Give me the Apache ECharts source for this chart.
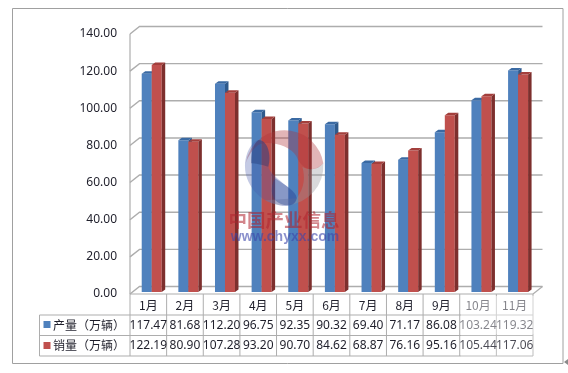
<!DOCTYPE html>
<html>
<head>
<meta charset="utf-8">
<style>
	html, body { margin: 0; padding: 0; background: #fff; }
	#chart { width: 568px; height: 373px; }
</style>
<script src="https://cdn.jsdelivr.net/npm/echarts@6/dist/echarts.min.js"></script>
</head>
<body>
<div id="chart"></div>
<script>
	var months = ['1月', '2月', '3月', '4月', '5月', '6月', '7月', '8月', '9月', '10月', '11月'];
	var production = [117.47, 81.68, 112.20, 96.75, 92.35, 90.32, 69.40, 71.17, 86.08, 103.24, 119.32];
	var sales = [122.19, 80.90, 107.28, 93.20, 90.70, 84.62, 68.87, 76.16, 95.16, 105.44, 117.06];
	var yTicks = [0, 20, 40, 60, 80, 100, 120, 140];
	var productionName = '产量（万辆）';
	var salesName = '销量（万辆）';

	var lineColor = '#adadad';
	var textColor = '#1f1f2b';
	var cjkFont = '"Noto Sans CJK SC", "Noto Sans", sans-serif';
	var depthX = 9.5, depthY = 7.5;   // 墙面进深
	var tableRows = [294, 315, 335.5, 356];

	// 背景墙、网格线、地板
	function renderWall(params, api) {
		var rect = params.coordSys;
		var y = api.coord([0, api.value(1)])[1];
		var left = rect.x, right = rect.x + rect.width;
		var children = [{
			type: 'polyline',
			shape: { points: [[left, y], [left + depthX, y - depthY], [right + depthX, y - depthY]] },
			style: { fill: 'none', stroke: lineColor, lineWidth: 1.4 }
		}];
		if (params.dataIndex === 0) {
			children.push({
				type: 'line',
				shape: { x1: left, y1: rect.y, x2: left, y2: rect.y + rect.height },
				style: { stroke: lineColor, lineWidth: 1.2 }
			});
			children.push({
				type: 'line',
				shape: { x1: right, y1: y, x2: right + depthX, y2: y - depthY },
				style: { stroke: lineColor, lineWidth: 1.2 }
			});
		}
		return { type: 'group', children: children };
	}

	// 伪3D柱子
	function barRenderer(offset, front, side, top) {
		return function(params, api) {
			var p = api.coord([api.value(0), api.value(1)]);
			var base = api.coord([api.value(0), 0]);
			var w = 10, dx = 3.5, dy = 2.5;
			var x = p[0] + 3.4 + offset;
			var y = p[1] - 2;
			var b = base[1] - 2;
			return {
				type: 'group',
				children: [{
					type: 'rect',
					shape: { x: x, y: y, width: w, height: b - y },
					style: { fill: front }
				}, {
					type: 'polygon',
					shape: { points: [[x + w, y], [x + w + dx, y - dy], [x + w + dx, b - dy], [x + w, b]] },
					style: { fill: side }
				}, {
					type: 'polygon',
					shape: { points: [[x, y], [x + dx, y - dy], [x + w + dx, y - dy], [x + w, y]] },
					style: { fill: top }
				}]
			};
		};
	}

	// 数据表的竖线和横线
	function renderTableGrid(params, api) {
		var rect = params.coordSys;
		var band = rect.width / months.length;
		var x = rect.x + band * api.value(0);
		var children = [{
			type: 'line',
			shape: { x1: x, y1: tableRows[0], x2: x, y2: tableRows[3] },
			style: { stroke: lineColor, lineWidth: 1 }
		}];
		if (params.dataIndex === 0) {
			children.push({
				type: 'line',
				shape: { x1: rect.x, y1: tableRows[0], x2: rect.x + rect.width, y2: tableRows[0] },
				style: { stroke: lineColor, lineWidth: 1 }
			});
			for (var i = 1; i < tableRows.length; i++) {
				children.push({
					type: 'line',
					shape: { x1: 39.5, y1: tableRows[i], x2: rect.x + rect.width, y2: tableRows[i] },
					style: { stroke: lineColor, lineWidth: 1 }
				});
			}
			children.push({
				type: 'line',
				shape: { x1: 39.5, y1: tableRows[1], x2: 39.5, y2: tableRows[3] },
				style: { stroke: lineColor, lineWidth: 1 }
			});
		}
		return { type: 'group', children: children };
	}

	function rowRenderer(rowIndex) {
		return function(params, api) {
			var p = api.coord([api.value(0), 0]);
			return {
				type: 'text',
				style: {
					x: p[0],
					y: (tableRows[rowIndex] + tableRows[rowIndex + 1]) / 2,
					text: api.value(1).toFixed(2),
					align: 'center',
					verticalAlign: 'middle',
					fill: textColor,
					font: '12px "Noto Sans", sans-serif'
				}
			};
		};
	}

	// 水印图标
	function renderLogo() {
		return {
			type: 'group',
			x: 225,
			y: 120,
			scaleX: 1 / 3,
			scaleY: 1 / 3,
			silent: true,
			children: [
				{ type: 'path', shape: { pathData: 'M295 130 A118 118 0 0 1 120 241 L215 235 C240 200 240 170 232 140 C250 152 275 150 295 130 Z' }, style: { fill: 'rgba(150,150,155,0.36)' } },
				{ type: 'path', shape: { pathData: 'M62 130 A118 118 0 0 1 295 130 C270 160 230 150 215 110 C195 75 130 60 100 75 C80 90 70 110 62 130 Z' }, style: { fill: 'rgba(175,50,55,0.36)' } },
				{ type: 'path', shape: { pathData: 'M100 60 C130 60 140 110 130 140 C135 170 215 210 215 235 C210 265 170 260 150 252 C100 240 60 190 60 140 C60 100 80 65 100 60 Z' }, style: { fill: 'rgba(70,90,170,0.32)' } },
				{ type: 'path', shape: { pathData: 'M150 175 C180 195 215 215 215 235 C210 265 170 260 150 240 C140 230 135 200 150 175 Z' }, style: { fill: 'rgba(40,70,150,0.38)' } },
				{ type: 'path', shape: { pathData: 'M100 60 C130 60 140 110 130 140 C110 135 90 130 78 130 C78 100 85 70 100 60 Z' }, style: { fill: 'rgba(30,50,110,0.35)' } }
			]
		};
	}

	function toPairs(values) {
		return values.map(function(v, i) { return [i, v]; });
	}

	var option = {
		animation: false,
		backgroundColor: '#fff',
		grid: { left: 130, right: 35, top: 34, bottom: 79 },
		xAxis: {
			type: 'category',
			data: months,
			axisLine: { show: false },
			axisTick: { show: false },
			axisLabel: { color: textColor, fontSize: 12, fontFamily: cjkFont, margin: 5, interval: 0 }
		},
		yAxis: {
			type: 'value',
			min: 0,
			max: 140,
			interval: 20,
			splitLine: { show: false },
			axisLine: { show: false },
			axisTick: { show: false },
			axisLabel: {
				color: textColor,
				fontSize: 12,
				fontFamily: '"Noto Sans", sans-serif',
				margin: 13,
				formatter: function(val) { return val.toFixed(2); }
			}
		},
		series: [{
			type: 'custom',
			silent: true,
			renderItem: renderWall,
			data: yTicks.map(function(v) { return [0, v]; }),
			z: 1
		}, {
			type: 'custom',
			name: productionName,
			renderItem: barRenderer(-10, '#4f81bd', '#2f5a8c', '#3a6aa3'),
			data: toPairs(production),
			z: 2
		}, {
			type: 'custom',
			name: salesName,
			renderItem: barRenderer(0, '#c0504d', '#7d2f2d', '#a33f3c'),
			data: toPairs(sales),
			z: 3
		}, {
			type: 'custom',
			silent: true,
			renderItem: renderTableGrid,
			data: months.concat(['']).map(function(m, i) { return [i, 0]; }),
			z: 4
		}, {
			type: 'custom',
			renderItem: rowRenderer(1),
			data: toPairs(production),
			z: 5
		}, {
			type: 'custom',
			renderItem: rowRenderer(2),
			data: toPairs(sales),
			z: 5
		}, {
			type: 'custom',
			silent: true,
			renderItem: renderLogo,
			data: [[0, 0]],
			z: 8
		}],
		graphic: [
			// 外框
			{ type: 'rect', z: 0, shape: { x: 12.5, y: 8.5, width: 550.5, height: 355 }, style: { fill: 'none', stroke: '#a0a0a0', lineWidth: 1 } },
			{ type: 'polygon', z: 0, shape: { points: [[568, 359], [568, 365], [564, 362]] }, style: { fill: '#8a8a8a' } },
			// 图例
			{ type: 'rect', z: 6, shape: { x: 43.5, y: 321, width: 7, height: 7 }, style: { fill: '#4f81bd' } },
			{ type: 'rect', z: 6, shape: { x: 43.5, y: 342, width: 7, height: 7 }, style: { fill: '#c0504d' } },
			{ type: 'text', z: 6, style: { x: 53, y: 325, text: productionName, fill: textColor, font: '12px ' + cjkFont, verticalAlign: 'middle' } },
			{ type: 'text', z: 6, style: { x: 53, y: 345.5, text: salesName, fill: textColor, font: '12px ' + cjkFont, verticalAlign: 'middle' } },
			// 表格右侧被水印盖白的部分
			{ type: 'rect', z: 7, shape: { x: 461, y: 296, width: 74, height: 38 }, style: { fill: 'rgba(255,255,255,0.45)' } },
			{ type: 'rect', z: 7, shape: { x: 461, y: 334, width: 74, height: 24 }, style: { fill: 'rgba(255,255,255,0.2)' } },
			// 水印文字
			{ type: 'text', z: 9, silent: true, style: { x: 284, y: 220, text: '中国产业信息', align: 'center', verticalAlign: 'middle', fill: 'rgba(175,35,45,0.55)', font: 'bold 18.5px ' + cjkFont } },
			{ type: 'text', z: 9, silent: true, style: { x: 285, y: 237.5, text: 'www.chyxx.com', align: 'center', verticalAlign: 'middle', fill: 'rgba(60,70,170,0.6)', font: 'bold 14px "Liberation Sans", sans-serif' } }
		]
	};

	var chart = echarts.init(document.getElementById('chart'));
	chart.setOption(option);
</script>
</body>
</html>
